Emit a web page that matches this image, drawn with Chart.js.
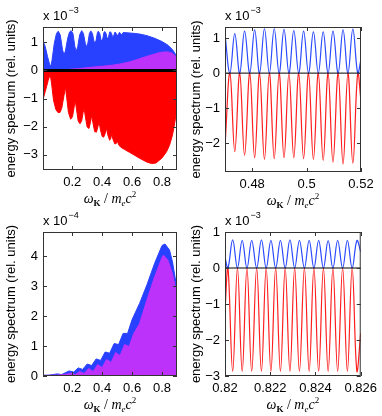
<!DOCTYPE html>
<html>
<head>
<meta charset="utf-8">
<script src="https://cdn.jsdelivr.net/npm/chart.js@4.4.0/dist/chart.umd.min.js"></script>
<style>
html, body { margin: 0; padding: 0; background: #fff; }
body { width: 382px; height: 416px; position: relative; overflow: hidden; }
canvas { position: absolute; }
</style>
</head>
<body>
<canvas id="tl" width="183" height="208" style="left:0px;top:0px"></canvas>
<canvas id="tr" width="199" height="208" style="left:183px;top:0px"></canvas>
<canvas id="bl" width="183" height="208" style="left:0px;top:208px"></canvas>
<canvas id="br" width="199" height="208" style="left:183px;top:208px"></canvas>
<script>
// top left: full spectrum (x 1e-3)
var tlBlueX = [0.005, 0.02, 0.035, 0.05, 0.057, 0.065, 0.08, 0.095, 0.107, 0.12, 0.135, 0.145, 0.155, 0.17, 0.182, 0.193, 0.205, 0.218, 0.227, 0.237, 0.25, 0.263, 0.275, 0.288, 0.296, 0.305, 0.315, 0.324, 0.335, 0.345, 0.352, 0.36, 0.368, 0.374, 0.384, 0.392, 0.397, 0.405, 0.412, 0.417, 0.426, 0.433, 0.437, 0.444, 0.45, 0.455, 0.463, 0.469, 0.473, 0.48, 0.486, 0.494, 0.5, 0.504, 0.51, 0.516, 0.523, 0.529, 0.534, 0.54, 0.547, 0.6, 0.65, 0.7, 0.75, 0.8, 0.84, 0.87, 0.89, 0.9];
var tlBlueY = [1.05, 0.85, 0.5, 0.2, 0.15, 0.35, 0.95, 1.32, 1.4, 1.27, 0.75, 0.55, 0.7, 1.15, 1.37, 1.42, 1.32, 0.85, 0.68, 0.85, 1.27, 1.42, 1.32, 0.95, 0.84, 0.98, 1.32, 1.41, 1.32, 1.05, 0.97, 1.08, 1.34, 1.4, 1.32, 1.1, 1.05, 1.15, 1.35, 1.39, 1.32, 1.15, 1.12, 1.22, 1.37, 1.38, 1.32, 1.2, 1.18, 1.28, 1.37, 1.32, 1.25, 1.24, 1.31, 1.36, 1.32, 1.28, 1.29, 1.35, 1.35, 1.33, 1.3, 1.24, 1.15, 1.03, 0.9, 0.74, 0.58, 0.47];
var tlPurpleX = [0.005, 0.12, 0.18, 0.25, 0.3, 0.36, 0.42, 0.47, 0.52, 0.58, 0.64, 0.69, 0.74, 0.78, 0.81, 0.84, 0.865, 0.885, 0.9];
var tlPurpleY = [0, 0.01, 0.04, 0.07, 0.1, 0.13, 0.16, 0.19, 0.23, 0.3, 0.4, 0.49, 0.57, 0.63, 0.66, 0.66, 0.62, 0.54, 0.44];
var tlRedX = [0.005, 0.02, 0.04, 0.053, 0.062, 0.075, 0.09, 0.105, 0.118, 0.13, 0.145, 0.155, 0.163, 0.175, 0.19, 0.202, 0.213, 0.22, 0.228, 0.24, 0.252, 0.263, 0.273, 0.28, 0.288, 0.3, 0.312, 0.322, 0.33, 0.338, 0.35, 0.362, 0.372, 0.38, 0.388, 0.4, 0.41, 0.42, 0.43, 0.438, 0.45, 0.458, 0.465, 0.472, 0.485, 0.495, 0.502, 0.51, 0.525, 0.55, 0.6, 0.65, 0.7, 0.73, 0.76, 0.8, 0.83, 0.85, 0.87, 0.88, 0.89, 0.9];
var tlRedY = [-1.04, -0.75, -0.35, -0.14, -0.45, -1.05, -1.38, -1.5, -1.5, -1.35, -0.9, -0.6, -0.95, -1.5, -1.74, -1.65, -1.3, -1.06, -1.35, -1.8, -1.9, -1.8, -1.5, -1.36, -1.65, -2.02, -2.07, -1.85, -1.6, -1.85, -2.18, -2.2, -2.0, -1.84, -2.1, -2.35, -2.38, -2.25, -2.07, -2.3, -2.49, -2.42, -2.25, -2.45, -2.62, -2.6, -2.52, -2.65, -2.74, -2.82, -2.97, -3.13, -3.27, -3.32, -3.3, -3.12, -2.9, -2.67, -2.3, -2.02, -1.7, -1.3];

// top right: zoom 0.47 - 0.52 (x 1e-3)
var trX = [0.47, 0.4718, 0.4736, 0.4754, 0.4772, 0.4791, 0.4809, 0.4827, 0.4845, 0.4863, 0.4881, 0.4899, 0.4917, 0.4935, 0.4953, 0.4971, 0.4989, 0.5007, 0.5025, 0.5043, 0.5061, 0.5079, 0.5097, 0.5116, 0.5134, 0.5152, 0.517, 0.5188, 0.52];
var trBlue = [1.1, 0, 1.13, 0, 1.2, 0, 1.24, 0, 1.27, 0, 1.27, 0, 1.25, 0, 1.22, 0, 1.2, 0, 1.18, 0, 1.18, 0, 1.2, 0, 1.24, 0, 1.26, 0, 0.4];
var trRed = [-2.1, 0, -2.25, 0, -2.35, 0, -2.42, 0, -2.47, 0, -2.45, 0, -2.42, 0, -2.42, 0, -2.45, 0, -2.47, 0, -2.5, 0, -2.55, 0, -2.6, 0, -2.58, 0, -0.8];

// bottom left: full spectrum (x 1e-4)
var blBlueX = [0.005, 0.05, 0.1, 0.13, 0.18, 0.21, 0.24, 0.27, 0.3, 0.33, 0.36, 0.39, 0.42, 0.45, 0.48, 0.51, 0.54, 0.57, 0.6, 0.65, 0.7, 0.75, 0.8, 0.82, 0.85, 0.87, 0.89, 0.9];
var blBlueY = [0.02, 0.03, 0.07, 0.05, 0.17, 0.13, 0.27, 0.22, 0.4, 0.35, 0.57, 0.52, 0.8, 0.76, 1.08, 1.05, 1.42, 1.42, 1.88, 2.42, 3.05, 3.75, 4.35, 4.4, 4.2, 3.8, 3.2, 2.8];
var blPurpleX = [0.005, 0.1, 0.15, 0.2, 0.22, 0.25, 0.28, 0.31, 0.34, 0.37, 0.4, 0.43, 0.46, 0.49, 0.52, 0.55, 0.58, 0.61, 0.65, 0.7, 0.75, 0.8, 0.81, 0.84, 0.87, 0.9];
var blPurpleY = [0.02, 0.03, 0.05, 0.1, 0.04, 0.15, 0.08, 0.25, 0.15, 0.38, 0.28, 0.55, 0.45, 0.78, 0.68, 1.05, 0.98, 1.4, 1.75, 2.55, 3.3, 3.95, 4.03, 3.85, 3.4, 2.7];

// bottom right: zoom 0.82 - 0.826 (x 1e-3)
var brX = [0.82, 0.82013, 0.82034, 0.82055, 0.82076, 0.82097, 0.82118, 0.8214, 0.82161, 0.82182, 0.82203, 0.82224, 0.82245, 0.82266, 0.82287, 0.82308, 0.82329, 0.82351, 0.82372, 0.82393, 0.82414, 0.82435, 0.82456, 0.82477, 0.82498, 0.8252, 0.82541, 0.82562, 0.82583, 0.826];
var brBlue = [0.3, 0, 0.78, 0, 0.77, 0, 0.77, 0, 0.78, 0, 0.77, 0, 0.77, 0, 0.78, 0, 0.77, 0, 0.77, 0, 0.77, 0, 0.76, 0, 0.77, 0, 0.77, 0, 0.76, 0.45];
var brRed = [-1.2, 0, -2.87, 0, -2.87, 0, -2.87, 0, -2.87, 0, -2.87, 0, -2.87, 0, -2.87, 0, -2.87, 0, -2.87, 0, -2.87, 0, -2.87, 0, -2.87, 0, -2.87, 0, -2.87, -1.8];

// tick labels
var xTicksFull = [0.2, 0.4, 0.6, 0.8];
var xTicksTR = [0.48, 0.5, 0.52];
var xTicksBR = [0.82, 0.822, 0.824, 0.826];
var yTicksTL = [-3, -2, -1, 0, 1];
var yTicksTR = [-2, -1, 0, 1];
var yTicksBL = [0, 1, 2, 3, 4];
var yTicksBR = [-3, -2, -1, 0, 1];

var BLUE = 'rgb(40, 64, 255)';
var PURPLE = 'rgb(188, 50, 250)';
var RED = 'rgb(255, 0, 0)';
var SANS = '"Liberation Sans", Arial, sans-serif';
var SERIF = '"Liberation Serif", "Times New Roman", serif';

function pts(xs, ys) {
    return xs.map(function(x, i) { return {x: x, y: ys[i]}; });
}

function fmt(v) {
    return v < 0 ? '\u2212' + (-v) : String(v);
}

// box, inward ticks, exponent and x label like matlab
var frame = {
    id: 'frame',
    afterDraw: function(chart, args, opts) {
        var ctx = chart.ctx, a = chart.chartArea;
        var sx = chart.scales.x, sy = chart.scales.y;
        ctx.save();
        ctx.strokeStyle = '#333';
        ctx.lineWidth = 1;
        ctx.beginPath();
        sx.ticks.forEach(function(t) {
            var p = Math.round(sx.getPixelForValue(t.value)) + 0.5;
            ctx.moveTo(p, a.bottom); ctx.lineTo(p, a.bottom - 4);
            ctx.moveTo(p, a.top); ctx.lineTo(p, a.top + 4);
        });
        sy.ticks.forEach(function(t) {
            var p = Math.round(sy.getPixelForValue(t.value)) + 0.5;
            ctx.moveTo(a.left, p); ctx.lineTo(a.left + 4, p);
            ctx.moveTo(a.right, p); ctx.lineTo(a.right - 4, p);
        });
        ctx.stroke();
        ctx.strokeRect(a.left + 0.5, a.top + 0.5, a.right - a.left - 1, a.bottom - a.top - 1);

        ctx.fillStyle = '#000';
        ctx.textAlign = 'left';
        ctx.textBaseline = 'alphabetic';
        ctx.font = '13px ' + SANS;
        ctx.fillText('x 10', a.left, a.top - 7);
        var w = ctx.measureText('x 10').width;
        ctx.font = '9px ' + SANS;
        ctx.fillText(opts.exp, a.left + w + 1, a.top - 14);

        // x label: omega_K / m_e c^2
        var parts = [
            ['italic 14px ' + SERIF, '\u03c9', 0],
            ['bold 9px ' + SERIF, 'K', 3],
            ['14px ' + SERIF, ' / ', 0],
            ['italic 14px ' + SERIF, 'm', 0],
            ['italic 9px ' + SERIF, 'e', 3],
            ['italic 14px ' + SERIF, 'c', 0],
            ['9px ' + SERIF, '2', -6]
        ];
        var total = 0;
        parts.forEach(function(p) { ctx.font = p[0]; total += ctx.measureText(p[1]).width; });
        var x = (a.left + a.right) / 2 - total / 2;
        var base = a.bottom + 33;
        parts.forEach(function(p) {
            ctx.font = p[0];
            ctx.fillText(p[1], x, base + p[2]);
            x += ctx.measureText(p[1]).width;
        });
        ctx.restore();
    }
};

function area(data, color) {
    return {data: data, borderColor: color, backgroundColor: color, borderWidth: 1, fill: 'origin', tension: 0, pointRadius: 0};
}

function curve(data, color, width) {
    return {data: data, borderColor: color, borderWidth: width, fill: false, tension: 0.4, pointRadius: 0};
}

function panel(id, o) {
    new Chart(document.getElementById(id), {
        type: 'line',
        data: {datasets: o.datasets},
        options: {
            responsive: false,
            animation: false,
            devicePixelRatio: 1,
            layout: {padding: {top: o.padTop, right: o.padRight, left: 0, bottom: 0}},
            plugins: {legend: {display: false}, tooltip: {enabled: false}, frame: {exp: o.exp}},
            scales: {
                x: {
                    type: 'linear', min: o.xMin, max: o.xMax,
                    afterBuildTicks: function(s) { s.ticks = o.xTicks.map(function(v) { return {value: v}; }); },
                    afterFit: function(s) { s.height = o.xH; },
                    grid: {display: false, drawTicks: false},
                    border: {display: false},
                    ticks: {color: '#000', font: {family: SANS, size: 13}, padding: 5, maxRotation: 0, autoSkip: false, callback: fmt}
                },
                y: {
                    type: 'linear', min: o.yMin, max: o.yMax,
                    afterBuildTicks: function(s) { s.ticks = o.yTicks.map(function(v) { return {value: v}; }); },
                    afterFit: function(s) { s.width = o.yW; },
                    grid: {display: false, drawTicks: false},
                    border: {display: false},
                    ticks: {color: '#000', font: {family: SANS, size: 13}, padding: 5, autoSkip: false, callback: fmt},
                    title: {display: true, text: 'energy spectrum (rel. units)', color: '#000', font: {family: SANS, size: 13}, padding: {top: o.titlePad, bottom: 0}}
                }
            }
        },
        plugins: [frame]
    });
}

panel('tl', {
    xMin: 0.005, xMax: 0.9, yMin: -3.55, yMax: 1.55, xTicks: xTicksFull, yTicks: yTicksTL,
    padTop: 27, padRight: 6, xH: 38, yW: 43, titlePad: 4, exp: '\u22123',
    datasets: [
        {data: [{x: 0.005, y: 0}, {x: 0.9, y: 0}], borderColor: '#000', borderWidth: 3, pointRadius: 0, fill: false},
        area(pts(tlPurpleX, tlPurpleY), PURPLE),
        area(pts(tlBlueX, tlBlueY), BLUE),
        area(pts(tlRedX, tlRedY), RED)
    ]
});

panel('tr', {
    xMin: 0.47, xMax: 0.52, yMin: -2.83, yMax: 1.32, xTicks: xTicksTR, yTicks: yTicksTR,
    padTop: 27, padRight: 21, xH: 36, yW: 42, titlePad: 6, exp: '\u22123',
    datasets: [
        {data: [{x: 0.47, y: 0}, {x: 0.52, y: 0}], borderColor: '#000', borderWidth: 1, pointRadius: 0, fill: false},
        curve(pts(trX, trBlue), 'rgb(45, 75, 255)', 1.2),
        curve(pts(trX, trRed), 'rgb(255, 30, 30)', 1.2)
    ]
});

panel('bl', {
    xMin: 0.005, xMax: 0.9, yMin: 0, yMax: 4.8, xTicks: xTicksFull, yTicks: yTicksBL,
    padTop: 24, padRight: 6, xH: 40, yW: 43, titlePad: 4, exp: '\u22124',
    datasets: [
        area(pts(blPurpleX, blPurpleY), PURPLE),
        area(pts(blBlueX, blBlueY), BLUE)
    ]
});

panel('br', {
    xMin: 0.82, xMax: 0.826, yMin: -3, yMax: 1, xTicks: xTicksBR, yTicks: yTicksBR,
    padTop: 24, padRight: 21, xH: 40, yW: 42, titlePad: 6, exp: '\u22123',
    datasets: [
        {data: [{x: 0.82, y: 0}, {x: 0.826, y: 0}], borderColor: '#000', borderWidth: 1, pointRadius: 0, fill: false},
        curve(pts(brX, brBlue), 'rgb(45, 75, 255)', 1.2),
        curve(pts(brX, brRed), 'rgb(255, 30, 30)', 1.2)
    ]
});
</script>
</body>
</html>
